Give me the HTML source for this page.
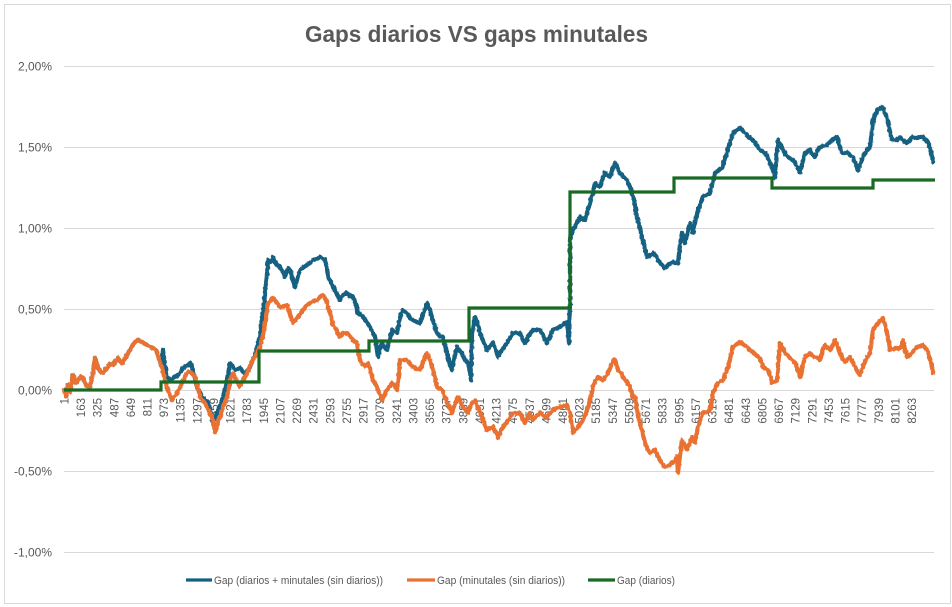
<!DOCTYPE html>
<html>
<head>
<meta charset="utf-8">
<style>
html,body{margin:0;padding:0;background:#fff;}
svg{display:block;}
text{font-family:"Liberation Sans",sans-serif;fill:#595959;}
</style>
</head>
<body>
<svg width="952" height="607" viewBox="0 0 952 607" xmlns="http://www.w3.org/2000/svg">
<defs>
<filter id="jit" filterUnits="userSpaceOnUse" x="0" y="0" width="952" height="607">
<feTurbulence type="fractalNoise" baseFrequency="0.4 0.3" numOctaves="1" seed="3" result="n"/>
<feDisplacementMap in="SourceGraphic" in2="n" scale="3" xChannelSelector="R" yChannelSelector="G"/>
</filter>
</defs>
<rect x="0" y="0" width="952" height="607" fill="#fff"/>
<rect x="4.5" y="4.5" width="946" height="599" fill="#fff" stroke="#d9d9d9" stroke-width="1"/>

<text x="476.5" y="42" font-size="23" font-weight="bold" text-anchor="middle" textLength="343" lengthAdjust="spacingAndGlyphs">Gaps diarios VS gaps minutales</text>

<g stroke="#d9d9d9" stroke-width="1">
<line x1="64" y1="66.5" x2="934" y2="66.5"/>
<line x1="64" y1="147.5" x2="934" y2="147.5"/>
<line x1="64" y1="228.5" x2="934" y2="228.5"/>
<line x1="64" y1="309.5" x2="934" y2="309.5"/>
<line x1="64" y1="390.5" x2="934" y2="390.5"/>
<line x1="64" y1="471.5" x2="934" y2="471.5"/>
<line x1="64" y1="552.5" x2="934" y2="552.5"/>
</g>

<g font-size="12" text-anchor="end">
<text x="52" y="70.5">2,00%</text>
<text x="52" y="151.5">1,50%</text>
<text x="52" y="232.5">1,00%</text>
<text x="52" y="313.5">0,50%</text>
<text x="52" y="394.5">0,00%</text>
<text x="52" y="475.5">-0,50%</text>
<text x="52" y="556.5">-1,00%</text>
</g>

<g font-size="11.5" text-anchor="end">
<text transform="translate(68.4,398) rotate(-90)">1</text>
<text transform="translate(85.0,398) rotate(-90)">163</text>
<text transform="translate(101.6,398) rotate(-90)">325</text>
<text transform="translate(118.3,398) rotate(-90)">487</text>
<text transform="translate(134.9,398) rotate(-90)">649</text>
<text transform="translate(151.5,398) rotate(-90)">811</text>
<text transform="translate(168.1,398) rotate(-90)">973</text>
<text transform="translate(184.7,398) rotate(-90)">1135</text>
<text transform="translate(201.4,398) rotate(-90)">1297</text>
<text transform="translate(218.0,398) rotate(-90)">1459</text>
<text transform="translate(234.6,398) rotate(-90)">1621</text>
<text transform="translate(251.2,398) rotate(-90)">1783</text>
<text transform="translate(267.8,398) rotate(-90)">1945</text>
<text transform="translate(284.5,398) rotate(-90)">2107</text>
<text transform="translate(301.1,398) rotate(-90)">2269</text>
<text transform="translate(317.7,398) rotate(-90)">2431</text>
<text transform="translate(334.3,398) rotate(-90)">2593</text>
<text transform="translate(350.9,398) rotate(-90)">2755</text>
<text transform="translate(367.6,398) rotate(-90)">2917</text>
<text transform="translate(384.2,398) rotate(-90)">3079</text>
<text transform="translate(400.8,398) rotate(-90)">3241</text>
<text transform="translate(417.4,398) rotate(-90)">3403</text>
<text transform="translate(434.0,398) rotate(-90)">3565</text>
<text transform="translate(450.7,398) rotate(-90)">3727</text>
<text transform="translate(467.3,398) rotate(-90)">3889</text>
<text transform="translate(483.9,398) rotate(-90)">4051</text>
<text transform="translate(500.5,398) rotate(-90)">4213</text>
<text transform="translate(517.1,398) rotate(-90)">4375</text>
<text transform="translate(533.8,398) rotate(-90)">4537</text>
<text transform="translate(550.4,398) rotate(-90)">4699</text>
<text transform="translate(567.0,398) rotate(-90)">4861</text>
<text transform="translate(583.6,398) rotate(-90)">5023</text>
<text transform="translate(600.2,398) rotate(-90)">5185</text>
<text transform="translate(616.9,398) rotate(-90)">5347</text>
<text transform="translate(633.5,398) rotate(-90)">5509</text>
<text transform="translate(650.1,398) rotate(-90)">5671</text>
<text transform="translate(666.7,398) rotate(-90)">5833</text>
<text transform="translate(683.3,398) rotate(-90)">5995</text>
<text transform="translate(700.0,398) rotate(-90)">6157</text>
<text transform="translate(716.6,398) rotate(-90)">6319</text>
<text transform="translate(733.2,398) rotate(-90)">6481</text>
<text transform="translate(749.8,398) rotate(-90)">6643</text>
<text transform="translate(766.4,398) rotate(-90)">6805</text>
<text transform="translate(783.1,398) rotate(-90)">6967</text>
<text transform="translate(799.7,398) rotate(-90)">7129</text>
<text transform="translate(816.3,398) rotate(-90)">7291</text>
<text transform="translate(832.9,398) rotate(-90)">7453</text>
<text transform="translate(849.5,398) rotate(-90)">7615</text>
<text transform="translate(866.2,398) rotate(-90)">7777</text>
<text transform="translate(882.8,398) rotate(-90)">7939</text>
<text transform="translate(899.4,398) rotate(-90)">8101</text>
<text transform="translate(916.0,398) rotate(-90)">8263</text>
</g>

<g fill="none" stroke-linejoin="round" stroke-linecap="round">
<polyline filter="url(#jit)" stroke="#156082" stroke-width="4.3" points="64,390 66,396 68,385 70,392 73,375 76,383 78,380 81,376 83,378 86,385 90,387 93,372 95,358 98,368 101,372 103,373 107,368 110,364 113,365 116,360 118,358 121,363 123,362 127,355 130,350 134,343 138,340 142,342 147,345 150,347 153,348 156,350 158,355 160,363 162,367 163,350 165,365 167,377 170,380 173,378 177,376 180,373 183,368 187,366 190,363 193,370 197,387 200,392 202,397 205,400 208,403 211,412 213,422 216,415 218,410 221,404 223,397 227,380 230,363 233,367 236,370 240,368 243,372 245,373 248,370 250,367 254,358 257,347 260,335 262,320 264,305 265,293 267,275 268,260 271,262 273,257 276,264 280,267 283,272 285,277 288,268 290,270 293,280 295,287 298,276 300,270 304,267 307,265 310,263 313,260 317,259 320,257 323,259 325,260 327,268 328,277 331,282 333,287 337,294 340,300 343,295 347,293 350,296 353,297 356,305 358,313 361,315 363,317 367,322 370,327 373,333 375,337 377,350 378,357 380,348 382,343 385,348 387,350 390,338 392,330 395,332 397,333 400,318 402,310 405,312 407,313 410,318 413,320 417,322 420,323 424,312 427,303 430,310 432,317 435,327 437,333 440,336 443,337 446,350 448,357 450,365 452,370 455,355 457,347 460,351 462,353 465,360 467,362 468,363 470,372 471,380 472,333 474,322 475,317 478,325 480,333 484,343 487,350 490,346 493,343 496,350 498,357 502,350 507,343 510,338 513,333 517,333 520,333 523,340 525,343 529,336 533,330 537,330 540,330 544,337 547,343 550,336 553,330 557,328 560,327 564,324 567,322 568,330 569,343 570,300 570,240 572,233 575,226 577,223 580,217 583,219 585,220 588,210 590,203 593,192 595,183 598,186 600,187 603,178 605,173 608,176 610,177 613,168 615,163 618,169 620,173 624,177 627,180 630,187 632,193 635,205 637,217 640,228 642,237 645,248 647,257 650,255 653,253 657,258 660,263 663,266 665,268 669,264 673,262 676,263 678,263 680,245 682,233 684,240 685,243 688,230 690,223 692,228 693,233 696,218 698,210 701,202 703,197 707,195 710,193 713,180 715,173 719,170 722,168 725,158 727,153 730,142 733,133 737,130 740,128 744,132 747,135 750,138 753,140 757,146 760,150 763,152 765,153 768,158 770,162 773,170 775,178 777,150 778,140 781,146 783,150 786,155 788,157 791,159 793,160 797,166 800,173 803,160 805,153 808,151 810,150 813,155 815,157 818,150 820,147 824,146 827,145 830,142 832,140 835,138 837,137 840,147 842,153 845,153 847,152 850,155 853,157 856,165 858,170 861,162 863,157 867,150 870,147 872,130 873,120 876,113 878,110 880,108 882,107 884,110 885,113 887,118 888,123 890,132 892,140 895,140 897,140 899,138 900,137 904,141 907,143 910,140 912,137 915,138 917,138 920,137 923,137 926,140 928,143 931,152 933,162"/>
<polyline filter="url(#jit)" stroke="#E97132" stroke-width="4.3" points="64,390 66,396 68,385 70,392 73,375 76,383 78,380 81,376 83,378 86,385 90,387 93,372 95,358 98,368 101,372 103,373 107,368 110,364 113,365 116,360 118,358 121,363 123,362 127,355 130,350 134,343 138,340 142,342 147,345 150,347 153,348 156,350 158,355 160,363 162,367 163,372 165,380 167,387 170,395 172,400 175,396 177,393 180,388 182,383 185,377 187,372 190,372 192,373 195,377 198,388 200,397 204,402 207,407 210,413 213,420 215,432 218,422 220,417 223,407 227,397 229,388 230,380 233,373 236,380 240,387 243,380 247,373 250,366 253,360 257,353 260,347 263,335 265,323 267,310 268,303 271,300 273,298 277,303 280,307 284,306 287,305 290,314 293,323 296,320 298,317 303,310 307,305 312,302 317,300 320,297 323,295 326,300 328,307 331,316 333,325 337,331 340,337 343,333 347,333 350,336 353,340 357,343 358,350 360,360 363,364 365,367 368,363 371,372 373,380 376,385 378,390 380,395 382,400 385,394 387,390 390,386 392,383 395,386 397,390 399,372 400,360 404,360 407,360 410,364 413,367 417,369 420,370 424,360 427,353 430,360 432,367 435,378 437,387 440,389 442,390 445,397 447,403 450,408 452,413 455,404 458,397 461,403 463,407 466,410 468,413 470,407 472,403 475,400 478,407 480,413 484,422 487,430 490,428 493,427 496,433 498,438 501,430 503,427 506,423 508,420 511,416 513,413 517,413 520,413 523,419 525,423 528,417 530,413 533,420 537,416 540,413 544,416 547,417 550,413 553,410 557,408 560,407 564,406 567,405 570,413 572,425 573,433 576,430 578,427 581,423 583,420 586,413 588,407 591,397 593,387 596,380 598,377 601,379 603,380 606,376 608,373 611,366 613,360 615,360 618,370 621,373 623,377 627,382 630,387 633,397 635,397 637,410 640,423 643,435 645,443 648,450 650,453 653,451 655,450 658,456 660,460 663,465 665,467 669,465 672,463 675,460 677,457 678,473 680,455 682,440 685,446 687,450 690,442 692,437 694,441 695,443 697,432 698,427 701,418 703,413 707,412 710,410 712,400 713,393 716,387 718,383 721,381 723,380 726,372 728,367 731,355 733,347 737,344 740,342 744,345 747,347 750,350 753,352 757,356 760,358 763,367 766,369 768,370 771,378 772,383 775,382 777,380 779,355 780,343 783,349 785,353 788,356 790,358 793,361 795,363 798,370 800,377 803,365 805,357 808,355 810,353 813,356 815,357 818,358 820,360 823,350 825,345 828,348 830,350 833,345 835,340 838,348 840,353 843,359 845,362 848,359 850,357 853,363 855,367 858,372 860,375 863,366 865,362 868,356 870,353 872,338 873,330 876,326 878,323 881,320 883,318 885,325 887,333 889,342 890,350 893,349 895,348 898,348 900,348 902,344 903,340 905,350 907,357 910,355 912,353 915,349 917,347 920,346 923,345 926,349 928,352 931,362 933,373"/>
<path stroke="#196B24" stroke-width="3.2" stroke-linejoin="miter" stroke-linecap="butt" d="M64,390 H161 V382 H259 V351 H369 V341 H469 V308 H570 V192 H674 V178 H772 V188 H873 V180 H935"/>
</g>

<g stroke-width="3.2">
<line x1="186" y1="580" x2="212" y2="580" stroke="#156082"/>
<line x1="407" y1="580" x2="435" y2="580" stroke="#E97132"/>
<line x1="588" y1="580" x2="615" y2="580" stroke="#196B24"/>
</g>
<g font-size="11">
<text x="214" y="584" textLength="169" lengthAdjust="spacingAndGlyphs">Gap (diarios + minutales (sin diarios))</text>
<text x="437" y="584" textLength="128" lengthAdjust="spacingAndGlyphs">Gap (minutales (sin diarios))</text>
<text x="617" y="584" textLength="58" lengthAdjust="spacingAndGlyphs">Gap (diarios)</text>
</g>
</svg>
</body>
</html>
